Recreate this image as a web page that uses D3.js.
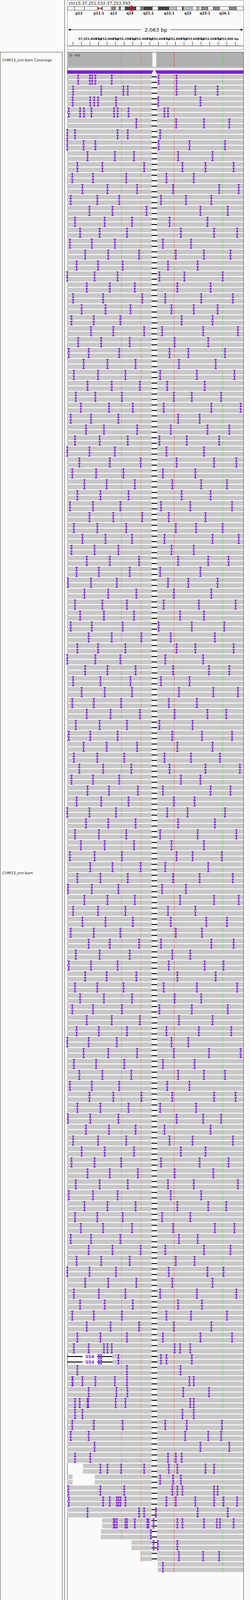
<!DOCTYPE html>
<html><head><meta charset="utf-8">
<script src="https://cdn.jsdelivr.net/npm/d3@7"></script>
<style>body{margin:0;background:#fafafa}svg{display:block}text{font-family:"DejaVu Sans",sans-serif}</style>
</head><body><svg id="c" width="640" height="4261"></svg>
<script>
const locus = "chr15:37,251,532-37,253,593";
const regionStart = 37251532, regionLen = 2063;
const bands = [[0,4,"w"],[4,9.6,"w"],[9.6,17.1,"w"],[17.1,19.8,"cen"],[19.8,25.1,"w"],[25.1,27.3,"g"],[27.3,29.3,"w"],[29.3,30.2,"g"],[30.2,32.7,"w"],[32.7,38.9,"d"],[38.9,41.6,"w"],[41.6,42.2,"g"],[42.2,42.7,"w"],[42.7,43.6,"g"],[43.6,48.2,"d"],[48.2,51.6,"w"],[51.6,57.6,"d"],[57.6,62,"l"],[62,65.3,"w"],[65.3,65.8,"d"],[65.8,70.9,"l"],[70.9,73.6,"w"],[73.6,74.7,"l"],[74.7,76.2,"w"],[76.2,79.8,"g"],[79.8,82.9,"w"],[82.9,86.4,"g"],[86.4,92,"w"],[92,96,"g"],[96,100,"w"]];
const bandLabels = [["p12",6.5],["p11.1",17.8],["q12",26.2],["q14",35.5],["q21.1",46],["q22.1",57.8],["q23",68.4],["q25.1",78.2],["q26.1",89.3]];
const viewMark = [35.8,36.9];
const tickStep = 100, labelStep = 200;
const deletion = [988,1052];
const snpLines = [[636,"#c8853c"],[864,"#c8853c"],[1253,"#e83a3a"],[1820,"#50c850"]];
const coverageMax = 60, coverageDepth = 58;
// read pairs: "start end | insertion positions (bp offsets)"
const reads = [
"0 2063|130 265 295 330 520 1070 1280","0 2063|70 400 660 710 1280 1500 1760","0 2063|65 270 315 360 570 1065 1560","0 2063|20 150 195 285 550 590 720 1140 1180","0 2063|810 1275 1600 1900","0 2063|0 90 590 710 1090","0 2063|0 190 330 1070 1430 1850",
"0 2063|240 560 780 1300 1700","0 2063|120 410 900 1350 1620 1950","0 2063|60 300 690 1160 1480","0 2063|180 470 820 1240 1780 2010","0 2063|40 350 610 1100 1390 1690","0 2063|260 530 930 1560 1880","0 2063|90 440 760 1200 1640",
"0 2063|150 380 700 1330 1720 1990","0 2063|30 290 560 1120 1450","0 2063|210 480 840 1270 1600 1910","0 2063|110 360 650 1180 1530","0 2063|0 320 590 1080 1370 1820","0 2063|230 500 790 1290 1680","0 2063|70 420 880 1150 1570 1940",
"0 2063|170 450 740 1220 1480 1760","0 2063|50 310 620 1340 1700","0 2063|280 540 900 1110 1590 2000","0 2063|130 400 730 1260 1650","0 2063|20 250 610 1200 1420 1850","0 2063|190 470 800 1310 1740","0 2063|80 360 680 1090 1520 1960",
"0 2063|240 520 850 1170 1610","0 2063|100 330 640 1250 1460 1800","0 2063|160 490 770 1130 1690 2030","0 2063|40 280 600 1300 1550","0 2063|220 430 820 1210 1640 1900","0 2063|90 380 710 1080 1400 1780","0 2063|0 260 560 1160 1600",
"0 2063|140 500 860 1280 1720 1980","0 2063|60 340 660 1120 1500","0 2063|200 460 790 1230 1570 1870","0 2063|120 390 720 1340 1680","0 2063|30 300 620 1100 1440 1930","0 2063|260 540 880 1190 1620","0 2063|80 350 690 1270 1510 1820",
"0 2063|180 450 760 1140 1700 2010","0 2063|50 320 600 1220 1480","0 2063|230 500 840 1300 1650 1890","0 2063|110 370 730 1090 1560","0 2063|10 280 580 1180 1420 1760","0 2063|200 480 810 1250 1690","0 2063|90 410 700 1130 1540 1970",
"0 2063|150 430 780 1320 1600","0 2063|40 290 650 1070 1460 1840","0 2063|250 520 870 1210 1730","0 2063|120 360 680 1280 1500 1950","0 2063|0 330 620 1150 1590","0 2063|210 470 800 1240 1660 1900","0 2063|70 390 740 1100 1430",
"0 2063|170 440 760 1310 1710 2000","0 2063|60 310 630 1190 1520","0 2063|230 510 850 1260 1640 1860","0 2063|100 380 700 1080 1470","0 2063|20 270 590 1230 1580 1930","0 2063|190 460 820 1290 1700","0 2063|80 350 670 1140 1450 1790",
"0 2063|140 420 750 1200 1620 2020","0 2063|50 300 610 1330 1560","0 2063|240 490 830 1120 1680 1910","0 2063|110 400 720 1250 1490","0 2063|0 260 570 1170 1410 1850","0 2063|220 480 800 1300 1730","0 2063|90 370 690 1090 1530 1980",
"0 2063|160 440 780 1220 1600","0 2063|30 320 640 1280 1470 1810","0 2063|270 530 860 1150 1650","0 2063|120 390 710 1240 1550 1940","0 2063|10 290 600 1110 1390","0 2063|200 470 790 1320 1720 2010","0 2063|70 360 680 1180 1500",
"0 2063|180 450 770 1210 1630 1870","0 2063|40 310 620 1270 1580","0 2063|250 500 840 1100 1690 1950","0 2063|100 380 730 1230 1440","0 2063|20 280 590 1190 1610 1830","0 2063|210 460 810 1290 1740","0 2063|90 350 660 1130 1520 1990",
"0 2063|150 430 760 1260 1570","0 2063|60 300 640 1080 1460 1880","0 2063|230 520 850 1310 1700","0 2063|110 370 700 1160 1540 1920","0 2063|0 250 580 1220 1420","0 2063|190 480 820 1250 1660 2030","0 2063|80 340 670 1120 1490",
"0 2063|140 410 750 1300 1600 1850","0 2063|30 290 610 1170 1430","0 2063|260 540 870 1230 1720 1970","0 2063|120 390 720 1090 1510","0 2063|10 270 600 1280 1590 1800","0 2063|220 490 800 1140 1680","0 2063|70 360 690 1200 1470 1940",
"0 2063|170 440 780 1330 1620","0 2063|50 320 630 1100 1550 1890","0 2063|240 500 830 1260 1710","0 2063|100 380 710 1180 1480 2000","0 2063|20 300 590 1210 1570","0 2063|200 470 800 1290 1650 1860","0 2063|90 350 650 1110 1440",
"0 2063|160 420 760 1240 1730 1960","0 2063|40 280 620 1310 1530","0 2063|250 530 860 1150 1600 1910","0 2063|110 400 730 1270 1490","0 2063|0 260 570 1190 1640 1830","0 2063|210 480 810 1230 1700","0 2063|80 370 680 1090 1520 1980",
"0 2063|150 440 770 1300 1580","0 2063|60 310 640 1160 1450 1870","0 2063|230 510 840 1250 1690","0 2063|120 390 700 1120 1560 1930","0 2063|80 250 430 470 520 1260 1320 1440","D0 530|370 400 600 1100 1160 1460",
"0 2063|120 700 1325","0 2063|60 65 180 330 560 700 1430 1480","0 2063|250 575 705 1360 1660","0 2063|90 145 240 245 565 680 1440 1480","0 2063|90 180 1350 1480","0 2063|60 310 650 1150 1400 1810","0 2063|40 250 1380 1650 1800",
"0 2063|320 1560 1900","0 2063|90 270 1180 1270 1340","184 2063|390 470 630 900 1190 1290 1620 1720","0 63;323 2063|1090 1240 1330","0 2063|15 390 670 1230 1290 1350 1720 1760","0 2063|20 420 500 580 600 620 680 1160 1270 1500 1720 1830 1990","0 2063|240 840 900 1040 1530 1880",
"410 2063|545 560 580 680 700 790 940 950 1010 1290 1350 1600 1750 1790 1950","395 2063|980","754 2063|1010 1060 1290","860 2063|1310 1590 1780","1061 2063|1120"
];
const svg = d3.select("#c");
const x = d3.scaleLinear().domain([0, regionLen]).range([172, 623]);
const chrX = d3.scaleLinear().domain([0,100]).range([173,623]);
const purple = "#7a1fd8";

// panels
svg.append("rect").attr("x",0.5).attr("y",133.5).attr("width",159).attr("height",4140).attr("fill","#fafafa").attr("stroke","#444");
[165].forEach(v=>svg.append("line").attr("x1",v+0.5).attr("x2",v+0.5).attr("y1",0).attr("y2",4261).attr("stroke","#444"));
svg.append("rect").attr("x",172.5).attr("y",0.5).attr("width",451).attr("height",127).attr("fill","#fafafa").attr("stroke","#999");
svg.append("rect").attr("x",172.5).attr("y",133.5).attr("width",451).attr("height",4140).attr("fill","#fafafa").attr("stroke","#444");

// header
svg.append("text").attr("x",176).attr("y",12).attr("font-size",10.5).attr("fill","#222").text(locus);
const stainCol = {w:"#fff",g:"#888",d:"#444",l:"#bbb"};
bands.forEach(b=>{
  if(b[2]==="cen"){
    const a=chrX(b[0]),c=chrX(b[1]),m=(a+c)/2;
    svg.append("path").attr("d",`M${a},17L${m},21.5L${a},26Z M${c},17L${m},21.5L${c},26Z`).attr("fill","#a01818");
  } else svg.append("rect").attr("x",chrX(b[0])).attr("y",17).attr("width",chrX(b[1])-chrX(b[0])).attr("height",9).attr("fill",stainCol[b[2]]).attr("stroke","#222").attr("stroke-width",0.8);
});
svg.append("rect").attr("x",chrX(viewMark[0])).attr("y",14).attr("width",chrX(viewMark[1])-chrX(viewMark[0])).attr("height",15).attr("fill","#f00");
bandLabels.forEach(l=>svg.append("text").attr("x",chrX(l[1])).attr("y",37).attr("text-anchor","middle").attr("font-size",8.5).attr("font-weight","bold").attr("fill","#222").text(l[0]));
svg.append("line").attr("x1",176).attr("x2",361).attr("y1",76).attr("y2",76).attr("stroke","#111");
svg.append("line").attr("x1",437).attr("x2",620).attr("y1",76).attr("y2",76).attr("stroke","#111");
svg.append("path").attr("d","M174,76l7,-3v6z M623,76l-7,-3v6z").attr("fill","#111");
svg.append("text").attr("x",399).attr("y",81).attr("text-anchor","middle").attr("font-size",13).attr("fill","#111").text(d3.format(",")(regionLen)+" bp");
const g0 = Math.ceil(regionStart/tickStep)*tickStep;
const ticks = d3.range(g0, regionStart+regionLen, tickStep);
ticks.forEach(t=>{
  const px=x(t-regionStart);
  svg.append("line").attr("x1",px).attr("x2",px).attr("y1",107).attr("y2",116).attr("stroke","#111");
  if((t/labelStep)%1===0 && t>regionStart+100) svg.append("text").attr("x",px).attr("y",102).attr("text-anchor","middle").attr("font-size",7.5).attr("font-weight","bold").attr("fill","#111").text(d3.format(",")(t)+" bp");
});
svg.append("line").attr("x1",173).attr("x2",623).attr("y1",117.5).attr("y2",117.5).attr("stroke","#111");

// names
svg.append("text").attr("x",6).attr("y",157).attr("font-size",9.5).attr("fill","#222").text("CHM13_ont.bam Coverage");
svg.append("text").attr("x",6).attr("y",2238).attr("font-size",9.5).attr("fill","#222").text("CHM13_ont.bam");

// coverage
const cy = d3.scaleLinear().domain([0,coverageMax]).range([172,133]);
const cov = [[0,coverageDepth],[deletion[0]+10,coverageDepth],[deletion[0]+10,1],[deletion[1]-10,1],[deletion[1]-10,coverageDepth],[regionLen,coverageDepth]];
svg.append("path").attr("d",d3.area().x(d=>x(d[0])).y0(cy(0)).y1(d=>cy(d[1]))(cov)).attr("fill","#b0b0b0");
svg.append("text").attr("x",177).attr("y",144).attr("font-size",7.5).attr("fill","#222").text("[0 - "+coverageMax+"]");
snpLines.forEach(s=>svg.append("line").attr("x1",x(s[0])).attr("x2",x(s[0])).attr("y1",134).attr("y2",172).attr("stroke",s[1]));
svg.append("line").attr("x1",173).attr("x2",623).attr("y1",173.5).attr("y2",173.5).attr("stroke","#888");
// insertion density bar
svg.append("rect").attr("x",173).attr("y",180).attr("width",450).attr("height",9).attr("fill",purple);
const dm=(x(deletion[0])+x(deletion[1]))/2;
svg.append("path").attr("d",`M${x(deletion[0])},189L${dm-2},180L${dm+2},180L${x(deletion[1])},189Z`).attr("fill","#fafafa");

// reads
const rowTop=191, rowPitch=14, readH=11.5;
const g = svg.append("g");
reads.forEach((r,i)=>{
  const [segStr,insStr]=r.split("|");
  const del554 = segStr.startsWith("D");
  const segs = del554 ? [[+segStr.slice(1).split(" ")[1], regionLen]] : segStr.split(";").map(s=>s.trim().split(" ").map(Number));
  const ins = insStr.trim()? insStr.trim().split(" ").map(Number):[];
  for(let k=0;k<2;k++){
    const y=rowTop+(i*2+k)*rowPitch;
    segs.forEach(([s,e])=>{
      const a=s, b=e;
      if(a<deletion[0]) g.append("rect").attr("x",x(a)).attr("y",y).attr("width",x(Math.min(b,deletion[0]))-x(a)).attr("height",readH).attr("fill","#c8c8c8");
      if(b>deletion[1]) g.append("rect").attr("x",x(Math.max(a,deletion[1]))).attr("y",y).attr("width",x(b)-x(Math.max(a,deletion[1]))).attr("height",readH).attr("fill","#c8c8c8");
      if(a<deletion[0]&&b>deletion[1]) g.append("rect").attr("x",x(deletion[0])).attr("y",y+readH/2-1.2).attr("width",x(deletion[1])-x(deletion[0])).attr("height",2.4).attr("fill","#000");
    });
    if(del554){
      const e=+segStr.slice(1).split(" ")[1];
      g.append("rect").attr("x",x(0)).attr("y",y+readH/2-1.2).attr("width",x(e)-x(0)).attr("height",2.4).attr("fill","#000");
      g.append("rect").attr("x",x(deletion[0])).attr("y",y+readH/2-1.2).attr("width",x(deletion[1])-x(deletion[0])).attr("height",2.4).attr("fill","#000");
      g.append("rect").attr("x",x(180)).attr("y",y).attr("width",x(350)-x(180)).attr("height",readH).attr("fill","#fafafa");
      g.append("text").attr("x",x(265)).attr("y",y+10).attr("text-anchor","middle").attr("font-size",11).attr("font-weight","bold").attr("fill",purple).text("554");
    }
    snpLines.forEach(s=>{
      if(segs.some(([a,b])=>s[0]>a&&s[0]<b)) g.append("rect").attr("x",x(s[0])-0.5).attr("y",y).attr("width",1).attr("height",readH).attr("fill",s[1]).attr("opacity",i%3===2?0.4:0.9);
    });
    ins.forEach(p=>{
      const px=Math.round(x(p));
      g.append("rect").attr("x",px-1).attr("y",y).attr("width",2.2).attr("height",readH).attr("fill",purple);
      g.append("rect").attr("x",px-3).attr("y",y).attr("width",6).attr("height",2).attr("fill",purple);
      g.append("rect").attr("x",px-3).attr("y",y+readH-2).attr("width",6).attr("height",2).attr("fill",purple);
    });
  }
});
</script></body></html>
